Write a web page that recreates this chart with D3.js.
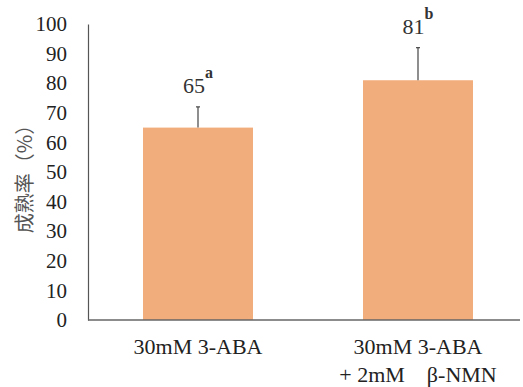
<!DOCTYPE html>
<html>
<head>
<meta charset="utf-8">
<script src="https://cdn.jsdelivr.net/npm/d3@7"></script>
<style>
  body { margin: 0; background: #fff; }
</style>
</head>
<body>
<div id="chart"></div>
<script>
const categories = ["30mM 3-ABA", "30mM 3-ABA|+ 2mM　β-NMN"]
const values = [65, 81]
const errors = [7, 11]
const letters = ["a", "b"]
const yTicks = [0, 10, 20, 30, 40, 50, 60, 70, 80, 90, 100]

const W = 523, H = 387
const margin = {top: 24, right: -5, bottom: 67, left: 88}
const width = W - margin.left - margin.right,
      height = H - margin.top - margin.bottom
const serif = "Liberation Serif"

const svg = d3.select("#chart")
  .append("svg")
    .attr("width", W)
    .attr("height", H)
  .append("g")
    .attr("transform", `translate(${margin.left}, ${margin.top})`)

const x = d3.scaleBand()
  .domain(categories)
  .range([0, width])
  .paddingInner(0.5)
  .paddingOuter(0.25)

const y = d3.scaleLinear()
  .domain([0, 100])
  .range([height, 0])

// y axis, no tick marks
const yAxis = svg.append("g")
  .call(d3.axisLeft(y).tickValues(yTicks).tickSize(0).tickPadding(21))
yAxis.select(".domain").attr("stroke", "#555").attr("stroke-width", 1.2)
yAxis.selectAll("text")
  .attr("font-family", serif)
  .attr("font-size", 21)
  .attr("fill", "#222")

// bars
svg.selectAll(".bar")
  .data(values)
  .join("rect")
    .attr("class", "bar")
    .attr("x", (d, i) => x(categories[i]))
    .attr("y", d => y(d))
    .attr("width", x.bandwidth())
    .attr("height", d => height - y(d))
    .attr("fill", "#f2ad7c")

// error bars (upper only)
const eb = svg.selectAll(".err")
  .data(values)
  .join("g")
    .attr("class", "err")
    .attr("transform", (d, i) => `translate(${x(categories[i]) + x.bandwidth() / 2}, 0)`)
eb.append("line")
  .attr("y1", d => y(d))
  .attr("y2", (d, i) => y(d + errors[i]))
  .attr("stroke", "#444")
  .attr("stroke-width", 1.2)
eb.append("line")
  .attr("x1", -2).attr("x2", 2)
  .attr("y1", (d, i) => y(d + errors[i]))
  .attr("y2", (d, i) => y(d + errors[i]))
  .attr("stroke", "#444")
  .attr("stroke-width", 1.2)

// value labels with significance letters
const lbl = eb.append("text")
  .attr("y", (d, i) => y(d + errors[i]) - 14)
  .attr("text-anchor", "middle")
  .attr("font-family", serif)
  .attr("font-size", 22)
  .attr("fill", "#333")
lbl.append("tspan").text(d => d)
lbl.append("tspan")
  .attr("dy", -15)
  .attr("font-size", 16)
  .attr("font-weight", "bold")
  .text((d, i) => letters[i])

// x axis line
svg.append("line")
  .attr("x1", 0).attr("x2", width - 8)
  .attr("y1", height).attr("y2", height)
  .attr("stroke", "#666")
  .attr("stroke-width", 1.5)

// x labels
svg.selectAll(".xl")
  .data(categories)
  .join("text")
    .attr("class", "xl")
    .attr("text-anchor", "middle")
    .attr("font-family", serif)
    .attr("font-size", 22)
    .attr("fill", "#222")
    .attr("transform", d => `translate(${x(d) + x.bandwidth() / 2}, ${height + 34})`)
  .selectAll("tspan")
  .data(d => d.split("|"))
  .join("tspan")
    .attr("x", 0)
    .attr("dy", (d, i) => i === 0 ? 0 : 28)
    .text(d => d)

// y title
svg.append("text")
  .attr("transform", `translate(${25 - margin.left}, ${174 - margin.top}) rotate(-90)`)
  .attr("text-anchor", "middle")
  .attr("dy", "0.35em")
  .attr("font-family", "Noto Sans CJK JP")
  .attr("font-size", 20)
  .attr("fill", "#555")
  .text("成熟率（%）")
</script>
</body>
</html>
